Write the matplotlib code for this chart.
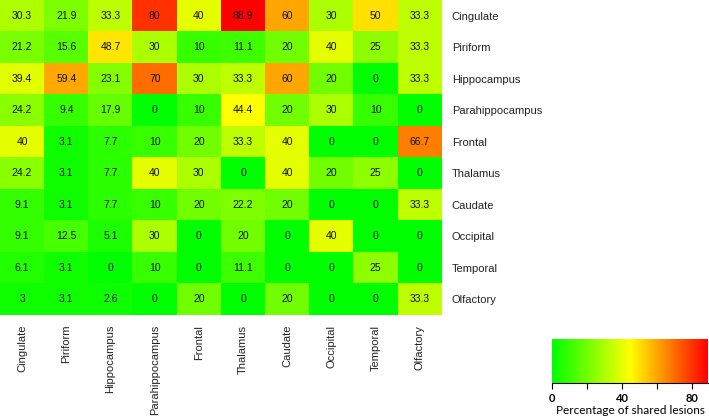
import numpy as np
import matplotlib.pyplot as plt
from matplotlib import font_manager as fm
from matplotlib.colors import LinearSegmentedColormap

# Regions (same order for rows and columns)
regions = ['Cingulate', 'Piriform', 'Hippocampus', 'Parahippocampus', 'Frontal',
           'Thalamus', 'Caudate', 'Occipital', 'Temporal', 'Olfactory']

# Percentage of shared lesions, one row per region
cingulate = [30.3, 21.9, 33.3, 80, 40, 88.9, 60, 30, 50, 33.3]
piriform = [21.2, 15.6, 48.7, 30, 10, 11.1, 20, 40, 25, 33.3]
hippocampus = [39.4, 59.4, 23.1, 70, 30, 33.3, 60, 20, 0, 33.3]
parahippocampus = [24.2, 9.4, 17.9, 0, 10, 44.4, 20, 30, 10, 0]
frontal = [40, 3.1, 7.7, 10, 20, 33.3, 40, 0, 0, 66.7]
thalamus = [24.2, 3.1, 7.7, 40, 30, 0, 40, 20, 25, 0]
caudate = [9.1, 3.1, 7.7, 10, 20, 22.2, 20, 0, 0, 33.3]
occipital = [9.1, 12.5, 5.1, 30, 0, 20, 0, 40, 0, 0]
temporal = [6.1, 3.1, 0, 10, 0, 11.1, 0, 0, 25, 0]
olfactory = [3, 3.1, 2.6, 0, 20, 0, 20, 0, 0, 33.3]

vmax = 88.9
cbar_ticks = [0, 20, 40, 60, 80]
cbar_labels = ['0', '', '40', '', '80']

data = np.array([cingulate, piriform, hippocampus, parahippocampus, frontal,
                 thalamus, caudate, occipital, temporal, olfactory])

# pick the regular (not narrow) Liberation Sans
sans_path = None
for f in fm.fontManager.ttflist:
    if f.name == 'Liberation Sans' and f.style == 'normal' and f.weight in (400, 'normal') \
            and 'Narrow' not in f.fname:
        sans_path = f.fname
        break
if sans_path:
    def sans(size):
        return fm.FontProperties(fname=sans_path, size=size)
else:
    def sans(size):
        return fm.FontProperties(family='Liberation Sans', size=size)

cmap = LinearSegmentedColormap.from_list('gyr', ['#00FF00', '#FFFF00', '#FF0000'])

W, H = 709, 419
fig = plt.figure(figsize=(W / 100, H / 100), dpi=100)

# heatmap
ax = fig.add_axes([0, 1 - 315 / H, 442 / W, 315 / H])
ax.imshow(data, cmap=cmap, vmin=0, vmax=vmax, aspect='auto', interpolation='nearest')
for i in range(data.shape[0]):
    for j in range(data.shape[1]):
        ax.text(j, i, f'{data[i, j]:g}', ha='center', va='center',
                fontproperties=sans(7.5), color='#111111')

ax.set_xticks(range(len(regions)))
ax.set_xticklabels(regions, rotation=90, fontproperties=sans(8), color='#222222')
ax.set_yticks(range(len(regions)))
ax.set_yticklabels(regions, fontproperties=sans(8), color='#222222')
ax.yaxis.tick_right()
ax.tick_params(length=0)
ax.tick_params(axis='x', pad=7)
ax.tick_params(axis='y', pad=7)
for s in ax.spines.values():
    s.set_visible(False)

# colour key
cax = fig.add_axes([552 / W, 1 - 383 / H, 156 / W, 44 / H])
grad = np.linspace(0, vmax, 256).reshape(1, -1)
cax.imshow(grad, cmap=cmap, vmin=0, vmax=vmax, aspect='auto',
           extent=[0, vmax, 0, 1], interpolation='bilinear')
cax.set_xlim(0, vmax)
cax.set_yticks([])
cax.set_xticks(cbar_ticks)
cax.set_xticklabels(cbar_labels, fontsize=8, fontweight='bold', family='Lato')
cax.tick_params(axis='x', length=4, width=0.8, pad=3)
for k in ['top', 'left', 'right']:
    cax.spines[k].set_visible(False)
cax.spines['bottom'].set_linewidth(0.8)
cax.set_xlabel('Percentage of shared lesions', fontsize=8.5, family='Lato', labelpad=1)

fig.savefig('out.png', dpi=100)
